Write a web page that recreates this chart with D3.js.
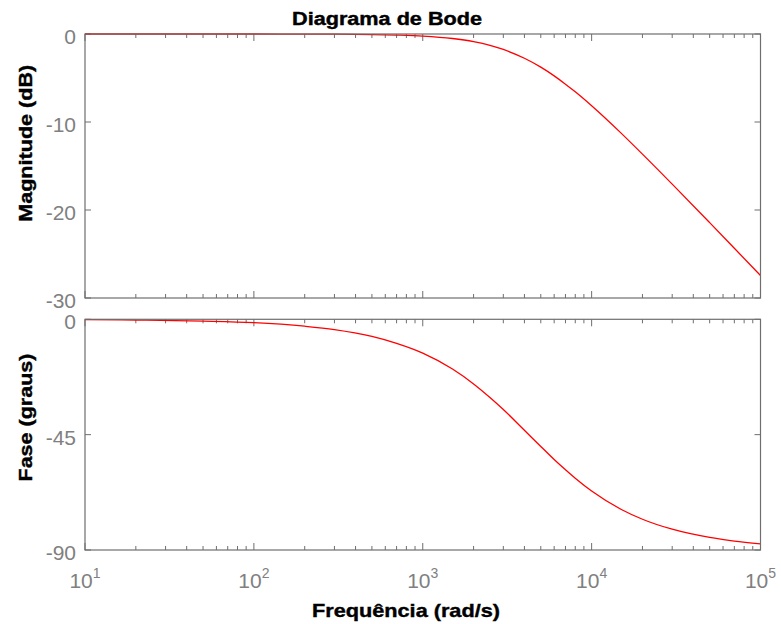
<!DOCTYPE html>
<html>
<head>
<meta charset="utf-8">
<script src="https://cdn.jsdelivr.net/npm/d3@7"></script>
<style>
  body { margin: 0; background: #fff; }
  svg { display: block; }
  text { font-family: "Liberation Sans", Arial, sans-serif; }
  .lbl { stroke: #000; stroke-width: 0.4; }
</style>
</head>
<body>
<svg width="781" height="624"></svg>
<script>
// values
const freq     = [10, 20, 50, 100, 200, 300, 500, 700, 1000, 1500, 2000, 2500, 3000, 4000, 5000, 6000, 7000, 8000, 10000, 15000, 20000, 30000, 50000, 70000, 100000];
const magDb    = [0, 0, 0, 0, -0.01, -0.02, -0.06, -0.12, -0.23, -0.51, -0.87, -1.29, -1.76, -2.76, -3.77, -4.76, -5.70, -6.57, -8.15, -11.29, -13.65, -17.06, -21.44, -24.35, -27.44];
const phaseDeg = [-0.1, -0.3, -0.7, -1.3, -2.7, -4.0, -6.7, -9.4, -13.2, -19.4, -25.2, -30.5, -35.2, -43.3, -49.6, -54.7, -58.7, -62.0, -67.0, -74.2, -78.0, -81.9, -85.1, -86.5, -87.6];

const decades  = [10, 100, 1000, 10000, 100000];
const magTicks = [0, -10, -20, -30];
const phaseTicks = [0, -45, -90];

const svg = d3.select("svg");
const left = 85, right = 760.5;

const x = d3.scaleLog().domain([10, 100000]).range([left, right]);
const yMag = d3.scaleLinear().domain([-30, 0]).range([298, 34]);
const yPh  = d3.scaleLinear().domain([-90, 0]).range([550, 319.3]);

// minor ticks 2..9 per decade
const minor = [];
decades.slice(0, -1).forEach(d => { for (let k = 2; k <= 9; k++) minor.push(d * k); });

const axisColor = "#6e6e6e";
const tickText = "#808080";

function panel(y, yTicks, values) {
  const [y0, y1] = y.range(); // bottom, top
  const g = svg.append("g");

  // inward ticks on all four sides
  const t = g.append("g").attr("stroke", axisColor).attr("stroke-width", 1);
  decades.forEach(d => {
    t.append("line").attr("x1", x(d)).attr("x2", x(d)).attr("y1", y0).attr("y2", y0 - 7);
    t.append("line").attr("x1", x(d)).attr("x2", x(d)).attr("y1", y1).attr("y2", y1 + 7);
  });
  minor.forEach(d => {
    t.append("line").attr("x1", x(d)).attr("x2", x(d)).attr("y1", y0).attr("y2", y0 - 4);
    t.append("line").attr("x1", x(d)).attr("x2", x(d)).attr("y1", y1).attr("y2", y1 + 4);
  });
  yTicks.forEach(v => {
    t.append("line").attr("x1", left).attr("x2", left + 6).attr("y1", y(v)).attr("y2", y(v));
    t.append("line").attr("x1", right).attr("x2", right - 6).attr("y1", y(v)).attr("y2", y(v));
  });

  // curve
  const line = d3.line()
    .x((d, i) => x(freq[i]))
    .y(d => y(d))
    .curve(d3.curveMonotoneX);
  g.append("path")
    .attr("d", line(values))
    .attr("fill", "none")
    .attr("stroke", "#ff0000")
    .attr("stroke-width", 1.3);

  // box
  g.append("rect")
    .attr("x", left).attr("y", y1)
    .attr("width", right - left).attr("height", y0 - y1)
    .attr("fill", "none").attr("stroke", axisColor).attr("stroke-width", 1.2);

  // y tick labels
  g.selectAll(".yl").data(yTicks).join("text")
    .attr("x", 76).attr("y", d => y(d) + 10)
    .attr("text-anchor", "end")
    .attr("font-size", 21)
    .attr("fill", tickText)
    .text(d => d);
}

panel(yMag, magTicks, magDb);
panel(yPh, phaseTicks, phaseDeg);

// x tick labels 10^n
const xl = svg.append("g");
decades.forEach(d => {
  const txt = xl.append("text")
    .attr("x", x(d)).attr("y", 588)
    .attr("text-anchor", "middle")
    .attr("font-size", 21)
    .attr("fill", tickText);
  txt.append("tspan").text("10");
  txt.append("tspan").attr("dy", -10).attr("font-size", 14).text(Math.round(Math.log10(d)));
});

// title and axis labels
svg.append("text").attr("class", "lbl")
  .attr("x", 387).attr("y", 24.5)
  .attr("text-anchor", "middle")
  .attr("font-size", 18).attr("font-weight", "bold")
  .attr("textLength", 190).attr("lengthAdjust", "spacingAndGlyphs")
  .text("Diagrama de Bode");

svg.append("text").attr("class", "lbl")
  .attr("x", 406).attr("y", 616.5)
  .attr("text-anchor", "middle")
  .attr("font-size", 18.5).attr("font-weight", "bold")
  .attr("textLength", 188).attr("lengthAdjust", "spacingAndGlyphs")
  .text("Frequência (rad/s)");

svg.append("text").attr("class", "lbl")
  .attr("transform", "translate(31.5,143.3) rotate(-90)")
  .attr("text-anchor", "middle")
  .attr("font-size", 19).attr("font-weight", "bold")
  .attr("textLength", 157).attr("lengthAdjust", "spacingAndGlyphs")
  .text("Magnitude (dB)");

svg.append("text").attr("class", "lbl")
  .attr("transform", "translate(31.5,417.5) rotate(-90)")
  .attr("text-anchor", "middle")
  .attr("font-size", 19).attr("font-weight", "bold")
  .attr("textLength", 128).attr("lengthAdjust", "spacingAndGlyphs")
  .text("Fase (graus)");
</script>
</body>
</html>
